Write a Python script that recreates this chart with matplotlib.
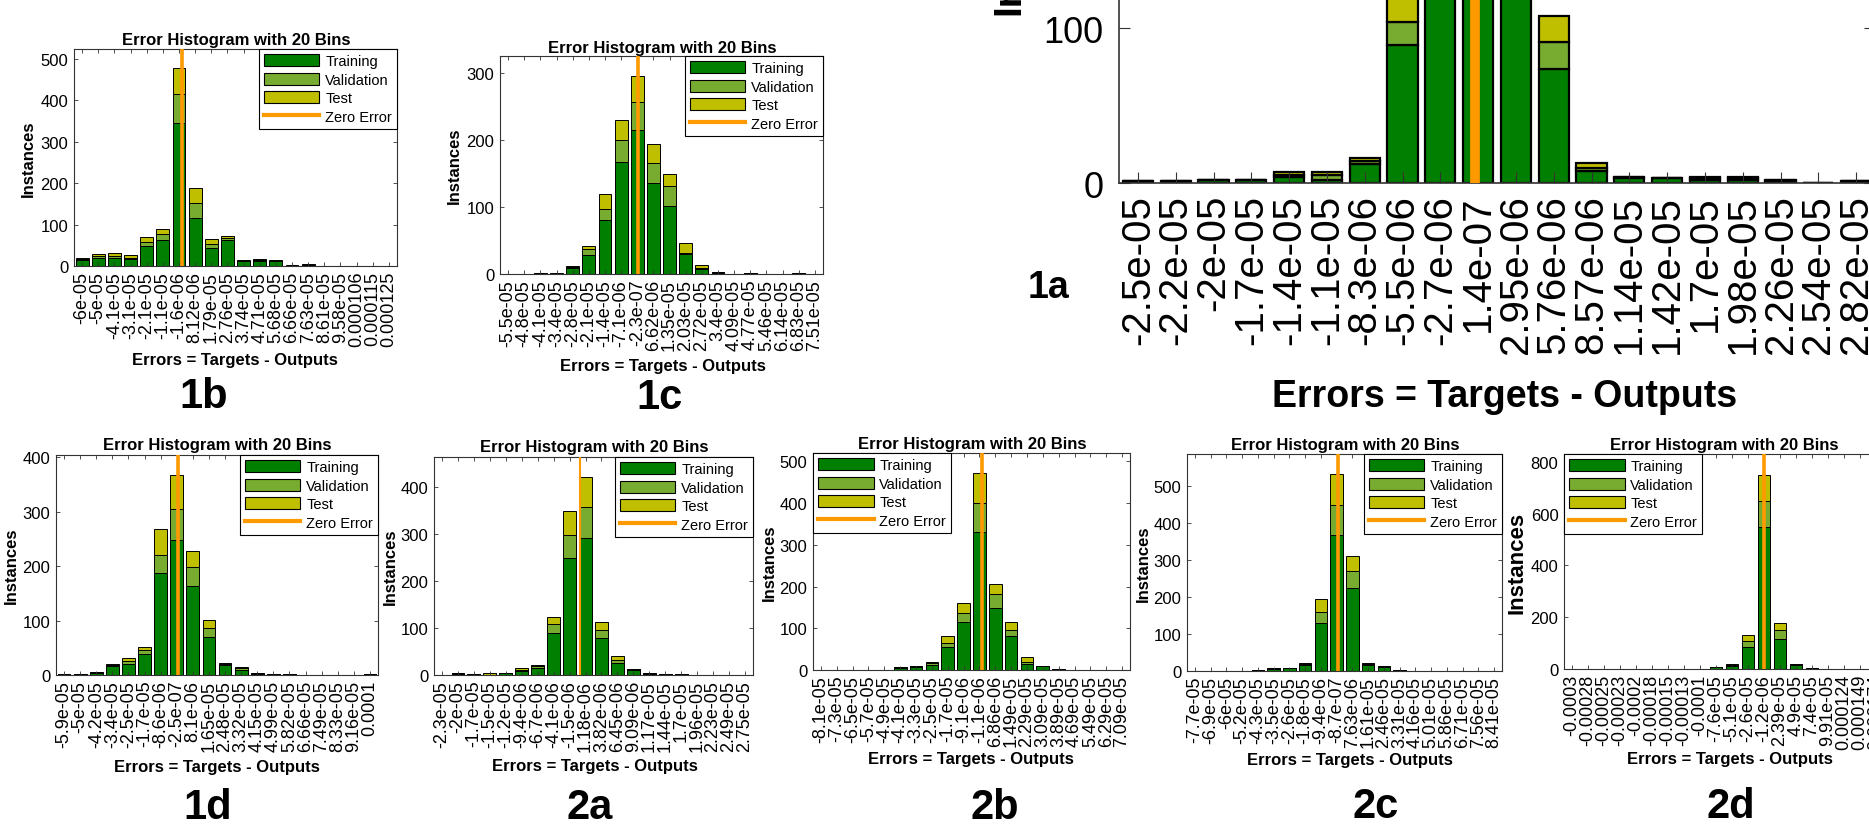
import numpy as np
import matplotlib
matplotlib.use('Agg')
import matplotlib.pyplot as plt
from matplotlib.patches import Patch
from matplotlib.lines import Line2D

W, H = 1869, 837
plt.rcParams['font.family'] = ['Liberation Sans', 'DejaVu Sans']

TRAIN_C = '#007F00'
VAL_C = '#77AC30'
TEST_C = '#BFBF00'
ZERO_C = '#FF9900'

# ---- data (instances per bin) ----
p1b_ticks = ['-6e-05', '-5e-05', '-4.1e-05', '-3.1e-05', '-2.1e-05', '-1.1e-05', '-1.6e-06',
             '8.12e-06', '1.79e-05', '2.76e-05', '3.74e-05', '4.71e-05', '5.68e-05', '6.66e-05',
             '7.63e-05', '8.61e-05', '9.58e-05', '0.000106', '0.000115', '0.000125']
p1b_train = [14, 19, 19, 16, 48, 63, 345, 117, 44, 62, 11, 11, 12, 1, 2, 0, 1, 1, 1, 1]
p1b_val = [2, 4, 5, 4, 11, 14, 70, 34, 10, 6, 2, 4, 1, 0, 1, 0, 0, 0, 0, 0]
p1b_test = [3, 5, 7, 6, 10, 13, 62, 38, 11, 5, 1, 3, 1, 1, 1, 0, 0, 0, 0, 0]

p1c_ticks = ['-5.5e-05', '-4.8e-05', '-4.1e-05', '-3.4e-05', '-2.8e-05', '-2.1e-05', '-1.4e-05',
             '-7.1e-06', '-2.3e-07', '6.62e-06', '1.35e-05', '2.03e-05', '2.72e-05', '3.4e-05',
             '4.09e-05', '4.77e-05', '5.46e-05', '6.14e-05', '6.83e-05', '7.51e-05']
p1c_train = [0, 0, 1, 0, 9, 28, 81, 167, 215, 136, 101, 30, 8, 2, 0, 1, 0, 0, 1, 0]
p1c_val = [0, 0, 0, 0, 2, 10, 16, 33, 41, 30, 30, 1, 1, 1, 0, 1, 0, 0, 1, 0]
p1c_test = [0, 0, 0, 1, 1, 4, 23, 30, 39, 28, 18, 15, 4, 0, 0, 0, 0, 0, 0, 0]

p1a_ticks = ['-2.5e-05', '-2.2e-05', '-2e-05', '-1.7e-05', '-1.4e-05', '-1.1e-05', '-8.3e-06',
             '-5.5e-06', '-2.7e-06', '1.4e-07', '2.95e-06', '5.76e-06', '8.57e-06', '1.14e-05',
             '1.42e-05', '1.7e-05', '1.98e-05', '2.26e-05', '2.54e-05', '2.82e-05']
p1a_train = [1, 1, 2, 2, 4, 2, 12, 89, 230, 260, 175, 74, 8, 3, 3, 2, 2, 1, 0, 1]
p1a_val = [0, 0, 0, 0, 1, 3, 2, 15, 45, 35, 40, 17, 2, 1, 0, 1, 1, 1, 0, 0]
p1a_test = [0, 0, 0, 0, 2, 2, 2, 40, 35, 30, 35, 17, 3, 0, 0, 1, 1, 0, 0, 0]

p1d_ticks = ['-5.9e-05', '-5e-05', '-4.2e-05', '-3.4e-05', '-2.5e-05', '-1.7e-05', '-8.6e-06',
             '-2.5e-07', '8.1e-06', '1.65e-05', '2.48e-05', '3.32e-05', '4.15e-05', '4.99e-05',
             '5.82e-05', '6.66e-05', '7.49e-05', '8.33e-05', '9.16e-05', '0.0001']
p1d_train = [2, 1, 4, 16, 20, 38, 187, 247, 163, 70, 18, 10, 2, 1, 1, 0, 0, 0, 0, 1]
p1d_val = [0, 0, 1, 2, 5, 8, 34, 58, 35, 17, 2, 3, 1, 1, 0, 0, 0, 0, 0, 0]
p1d_test = [0, 0, 0, 2, 7, 6, 47, 62, 29, 14, 2, 2, 0, 0, 0, 0, 0, 0, 0, 0]

p2a_ticks = ['-2.3e-05', '-2e-05', '-1.7e-05', '-1.5e-05', '-1.2e-05', '-9.4e-06', '-6.7e-06',
             '-4.1e-06', '-1.5e-06', '1.18e-06', '3.82e-06', '6.45e-06', '9.09e-06', '1.17e-05',
             '1.44e-05', '1.7e-05', '1.96e-05', '2.23e-05', '2.49e-05', '2.75e-05']
p2a_train = [1, 3, 2, 1, 4, 8, 14, 89, 249, 293, 79, 25, 11, 3, 2, 2, 0, 1, 0, 0]
p2a_val = [0, 1, 0, 0, 1, 2, 5, 20, 49, 66, 18, 8, 1, 1, 0, 0, 0, 0, 0, 0]
p2a_test = [0, 0, 0, 3, 0, 4, 3, 15, 52, 64, 17, 7, 0, 0, 0, 0, 0, 0, 0, 0]

p2b_ticks = ['-8.1e-05', '-7.3e-05', '-6.5e-05', '-5.7e-05', '-4.9e-05', '-4.1e-05', '-3.3e-05',
             '-2.5e-05', '-1.7e-05', '-9.1e-06', '-1.1e-06', '6.86e-06', '1.49e-05', '2.29e-05',
             '3.09e-05', '3.89e-05', '4.69e-05', '5.49e-05', '6.29e-05', '7.09e-05']
p2b_train = [1, 0, 0, 0, 1, 5, 8, 11, 55, 115, 330, 149, 81, 14, 9, 2, 0, 0, 0, 1]
p2b_val = [0, 0, 0, 0, 0, 1, 1, 5, 10, 22, 70, 32, 16, 6, 1, 0, 0, 0, 0, 0]
p2b_test = [0, 0, 0, 0, 0, 0, 1, 2, 17, 24, 71, 25, 18, 10, 0, 0, 0, 0, 0, 0]

p2c_ticks = ['-7.7e-05', '-6.9e-05', '-6e-05', '-5.2e-05', '-4.3e-05', '-3.5e-05', '-2.6e-05',
             '-1.8e-05', '-9.4e-06', '-8.7e-07', '7.63e-06', '1.61e-05', '2.46e-05', '3.31e-05',
             '4.16e-05', '5.01e-05', '5.86e-05', '6.71e-05', '7.56e-05', '8.41e-05']
p2c_train = [1, 0, 0, 0, 2, 6, 8, 16, 131, 368, 226, 16, 11, 3, 1, 1, 1, 0, 0, 1]
p2c_val = [0, 0, 0, 0, 0, 1, 1, 4, 30, 82, 45, 4, 2, 0, 0, 0, 0, 0, 0, 0]
p2c_test = [0, 0, 0, 0, 0, 0, 0, 2, 35, 83, 41, 3, 1, 0, 0, 0, 0, 0, 0, 0]

p2d_ticks = ['-0.0003', '-0.00028', '-0.00025', '-0.00023', '-0.0002', '-0.00018', '-0.00015',
             '-0.00013', '-0.0001', '-7.6e-05', '-5.1e-05', '-2.6e-05', '-1.2e-06', '2.39e-05',
             '4.9e-05', '7.4e-05', '9.91e-05', '0.000124', '0.000149', '0.000174']
p2d_train = [0, 0, 0, 0, 0, 0, 0, 1, 0, 6, 13, 86, 547, 116, 14, 3, 0, 0, 0, 0]
p2d_val = [0, 0, 0, 0, 0, 0, 0, 0, 0, 1, 4, 21, 100, 33, 4, 1, 0, 0, 0, 0]
p2d_test = [0, 0, 0, 0, 0, 0, 0, 0, 0, 1, 4, 25, 103, 27, 3, 0, 0, 0, 0, 0]

fig = plt.figure(figsize=(W / 100, H / 100), dpi=100)


def fx(x):
    return x / W


def fy(y):
    return 1 - y / H


def panel(box, train, val, test, ticks, ylim, yticks, leg_loc, tag, tag_xy,
          title_xy, xlab_xy, ylab_x, big=False, zero_lw=2.6, ylab_fs=12):
    L, T, R, B = box
    ax = fig.add_axes([fx(L), fy(B), (R - L) / W, (B - T) / H])
    train = np.array(train, float)
    val = np.array(val, float)
    test = np.array(test, float)
    x = np.arange(1, len(train) + 1)
    lw = 1.6 if big else 0.7
    ax.bar(x, train, 0.8, color=TRAIN_C, edgecolor='black', linewidth=lw)
    ax.bar(x, val, 0.8, bottom=train, color=VAL_C, edgecolor='black', linewidth=lw)
    ax.bar(x, test, 0.8, bottom=train + val, color=TEST_C, edgecolor='black', linewidth=lw)
    # zero error position from the bin centre labels
    first = float(ticks[0])
    step = (float(ticks[-1]) - first) / (len(ticks) - 1)
    zero = 1 - first / step
    ax.axvline(zero, color=ZERO_C, lw=zero_lw, zorder=5)
    ax.set_xlim(0.5, len(train) + 0.5)
    ax.set_ylim(*ylim)
    ax.set_yticks(yticks)
    ax.set_xticks(x)
    xfs, yfs = (29, 26) if big else (13, 12)
    ax.set_xticklabels(ticks, rotation=90, fontsize=xfs)
    ax.tick_params(axis='y', labelsize=yfs)
    ax.tick_params(direction='in', top=True, right=True,
                   length=8 if big else 3, width=0.8 if big else 0.6,
                   color='#333333')
    ax.tick_params(axis='x', pad=8 if big else 3.5)
    ax.tick_params(axis='y', pad=11 if big else 4)
    for s in ax.spines.values():
        s.set_color('#333333')
        s.set_linewidth(1.2 if big else 0.8)

    lab_fs = 27 if big else 12
    if title_xy is not None:
        fig.text(fx(title_xy[0]), fy(title_xy[1]), 'Error Histogram with 20 Bins',
                 ha='center', va='center', fontsize=lab_fs, fontweight='bold')
    fig.text(fx(xlab_xy[0]), fy(xlab_xy[1]), 'Errors = Targets - Outputs',
             ha='center', va='center', fontsize=lab_fs, fontweight='bold')
    fig.text(fx(ylab_x), fy((T + B) / 2), 'Instances', rotation=90,
             ha='center', va='center', fontsize=28 if big else ylab_fs, fontweight='bold')
    fig.text(fx(tag_xy[0]), fy(tag_xy[1]), tag, ha='center', va='center',
             fontsize=27 if big else 30, fontweight='bold')

    if leg_loc is not None:
        handles = [Patch(facecolor=TRAIN_C, edgecolor='black', linewidth=0.8),
                   Patch(facecolor=VAL_C, edgecolor='black', linewidth=0.8),
                   Patch(facecolor=TEST_C, edgecolor='black', linewidth=0.8),
                   Line2D([0], [0], color=ZERO_C, lw=3)]
        leg = ax.legend(handles, ['Training', 'Validation', 'Test', 'Zero Error'],
                        loc=leg_loc, fontsize=10.5, fancybox=False, edgecolor='black',
                        framealpha=1, borderaxespad=0, handlelength=3.8,
                        handleheight=0.9, labelspacing=0.3, handletextpad=0.4,
                        borderpad=0.35)
        leg.get_frame().set_linewidth(0.8)
        leg.set_zorder(10)
    return ax


# top row
panel((74, 50, 397, 267), p1b_train, p1b_val, p1b_test, p1b_ticks, (0, 524),
      [0, 100, 200, 300, 400, 500], 'upper right', '1b', (204, 397),
      (236, 41), (235, 361), 28)
panel((500, 57, 823, 275), p1c_train, p1c_val, p1c_test, p1c_ticks, (0, 325),
      [0, 100, 200, 300], 'upper right', '1c', (659, 398),
      (662, 48), (663, 367), 454)
panel((1119, -334, 1875, 184), p1a_train, p1a_val, p1a_test, p1a_ticks, (0, 335),
      [0, 100, 200, 300], None, '1a', (1048, 288),
      None, (1505, 397), 1009, big=True, zero_lw=7)

# bottom row
panel((56, 456, 378, 676), p1d_train, p1d_val, p1d_test, p1d_ticks, (0, 404),
      [0, 100, 200, 300, 400], 'upper right', '1d', (208, 808),
      (217, 446), (217, 768), 11)
panel((434, 458, 753, 676), p2a_train, p2a_val, p2a_test, p2a_ticks, (0, 465),
      [0, 100, 200, 300, 400], 'upper right', '2a', (590, 808),
      (594, 448), (595, 767), 390, zero_lw=1.5)
panel((813, 454, 1130, 671), p2b_train, p2b_val, p2b_test, p2b_ticks, (0, 520),
      [0, 100, 200, 300, 400, 500], 'upper left', '2b', (995, 808),
      (972, 445), (971, 760), 769)
panel((1187, 455, 1502, 672), p2c_train, p2c_val, p2c_test, p2c_ticks, (0, 588),
      [0, 100, 200, 300, 400, 500], 'upper right', '2c', (1376, 807),
      (1345, 446), (1350, 761), 1143)
panel((1564, 455, 1884, 670), p2d_train, p2d_val, p2d_test, p2d_ticks, (0, 830),
      [0, 200, 400, 600, 800], 'upper left', '2d', (1731, 807),
      (1724, 446), (1730, 760), 1517, ylab_fs=16)

fig.savefig('out.png', dpi=100)
